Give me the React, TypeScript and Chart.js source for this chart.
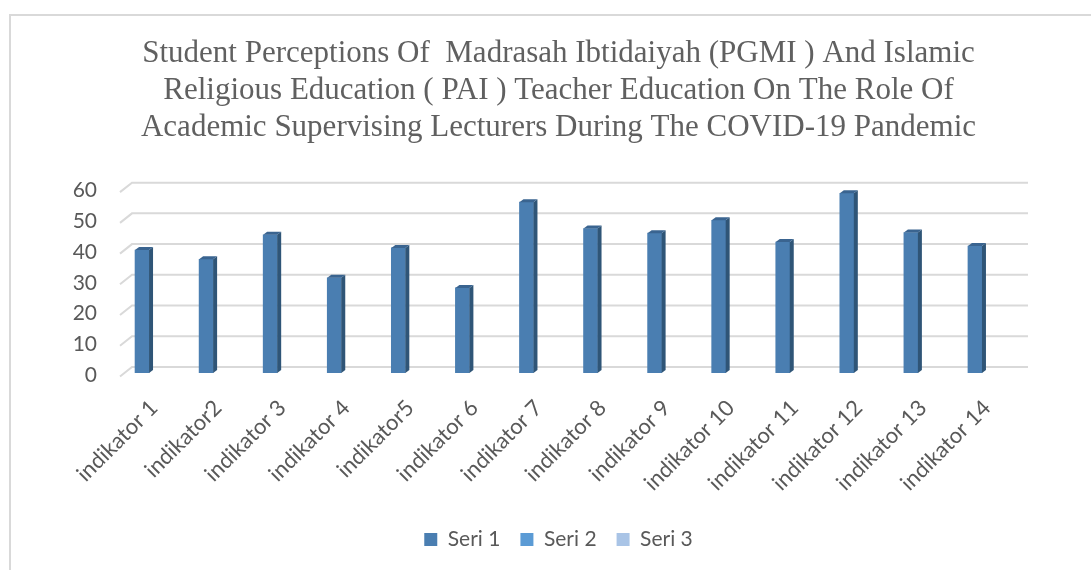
import React, { useEffect, useRef } from "react";
import { Chart, registerables } from "chart.js";

Chart.register(...registerables);

const categories = [
  "indikator 1", "indikator2", "indikator 3", "indikator 4", "indikator5",
  "indikator 6", "indikator 7", "indikator 8", "indikator 9", "indikator 10",
  "indikator 11", "indikator 12", "indikator 13", "indikator 14",
];
const seri1 = [40, 37, 45, 31, 40.7, 27.7, 55.6, 47, 45.5, 49.7, 42.6, 58.5, 45.7, 41.3];
const seri2: number[] = [];
const seri3: number[] = [];
const seriesNames = ["Seri 1", "Seri 2", "Seri 3"];
const yTicks = [0, 10, 20, 30, 40, 50, 60];
const titleLines = [
  "Student Perceptions Of  Madrasah Ibtidaiyah (PGMI ) And Islamic",
  "Religious Education ( PAI ) Teacher Education On The Role Of",
  "Academic Supervising Lecturers During The COVID-19 Pandemic",
];

const FRONT = "#4a7eb1";
const SIDE = "#2f5577";
const TOP = "#3a6490";
const TEXT = "#595959";
const SANS = "Lato, 'Noto Sans', sans-serif";

const threeD = {
  id: "threeD",
  beforeDatasetsDraw(chart: any) {
    const { ctx, chartArea, scales } = chart;
    const y = scales.y;
    ctx.save();
    ctx.strokeStyle = "#d9d9d9";
    ctx.lineWidth = 2;
    for (const v of yTicks) {
      const py = y.getPixelForValue(v);
      const by = py - 6;
      ctx.beginPath();
      ctx.moveTo(chartArea.left + 10, py + 3.5);
      ctx.lineTo(chartArea.left + 22, by);
      ctx.lineTo(chartArea.right + 21, by);
      ctx.stroke();
    }
    ctx.restore();
  },
  afterDatasetsDraw(chart: any) {
    const { ctx } = chart;
    const meta = chart.getDatasetMeta(0);
    const dx = 4;
    const dy = 3;
    ctx.save();
    for (const bar of meta.data) {
      const { x, y, base, width } = bar.getProps(["x", "y", "base", "width"], true);
      const l = x - width / 2;
      const r = x + width / 2;
      ctx.fillStyle = SIDE;
      ctx.beginPath();
      ctx.moveTo(r, y);
      ctx.lineTo(r + dx, y - dy);
      ctx.lineTo(r + dx, base - dy);
      ctx.lineTo(r, base);
      ctx.closePath();
      ctx.fill();
      ctx.fillStyle = TOP;
      ctx.beginPath();
      ctx.moveTo(l, y);
      ctx.lineTo(l + dx, y - dy);
      ctx.lineTo(r + dx, y - dy);
      ctx.lineTo(r, y);
      ctx.closePath();
      ctx.fill();
    }
    ctx.restore();
  },
};

export default function App() {
  const canvasRef = useRef<HTMLCanvasElement | null>(null);

  useEffect(() => {
    const canvas = canvasRef.current;
    if (!canvas) return;
    const chart = new Chart(canvas, {
      type: "bar",
      data: {
        labels: categories,
        datasets: [
          { label: seriesNames[0], data: seri1, backgroundColor: FRONT, borderWidth: 0 },
          { label: seriesNames[1], data: seri2, backgroundColor: "#5b9bd5", borderWidth: 0 },
          { label: seriesNames[2], data: seri3, backgroundColor: "#a9c4e6", borderWidth: 0 },
        ],
      },
      options: {
        responsive: false,
        animation: false,
        events: [],
        layout: { padding: { left: 20, right: 84, top: 0, bottom: 10 } },
        datasets: { bar: { grouped: false, barThickness: 14 } },
        scales: {
          x: {
            grid: { display: false },
            border: { display: false },
            ticks: {
              autoSkip: false,
              minRotation: 45,
              maxRotation: 45,
              labelOffset: 12,
              padding: 14,
              color: TEXT,
              font: { family: SANS, size: 22 },
            },
            afterFit(scale: any) {
              scale.height = 136;
            },
          },
          y: {
            min: 0,
            max: 60,
            grid: { display: false, drawTicks: false },
            border: { display: false },
            ticks: {
              stepSize: 10,
              padding: 13,
              labelOffset: 2,
              color: TEXT,
              font: { family: SANS, size: 21 },
            },
            afterFit(scale: any) {
              scale.width = 90;
            },
          },
        },
        plugins: {
          tooltip: { enabled: false },
          title: {
            display: true,
            fullSize: false,
            text: titleLines,
            color: "#606060",
            font: { family: "'Liberation Serif', serif", size: 31, weight: "normal", lineHeight: 1.194 },
            padding: { top: 35, bottom: 42.6 },
          },
          legend: {
            position: "bottom",
            fullSize: false,
            labels: {
              boxWidth: 13,
              boxHeight: 13,
              padding: 20,
              color: TEXT,
              font: { family: SANS, size: 21 },
            },
          },
        },
      },
      plugins: [threeD],
    });
    return () => chart.destroy();
  }, []);

  return (
    <>
      <div
        style={{
          position: "fixed",
          left: 9,
          top: 14,
          width: 1082,
          height: 556,
          boxSizing: "border-box",
          borderTop: "2px solid #d9d9d9",
          borderLeft: "2px solid #d9d9d9",
          background: "#fff",
        }}
      />
      <canvas
        ref={canvasRef}
        width={1091}
        height={570}
        style={{ position: "fixed", left: 0, top: 0, width: 1091, height: 570 }}
      />
    </>
  );
}
